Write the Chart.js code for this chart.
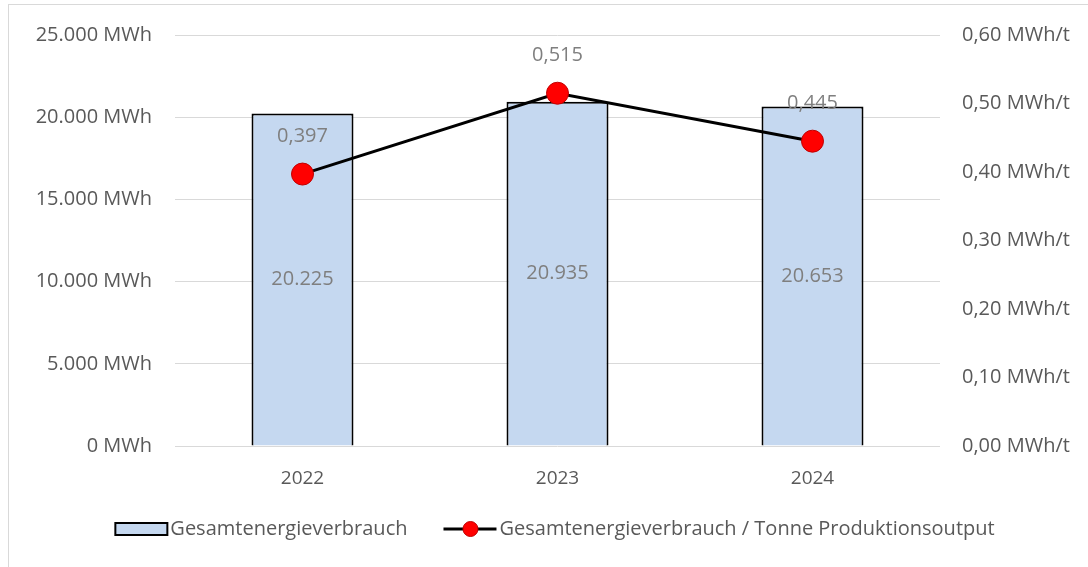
<!DOCTYPE html>
<html>
<head>
<meta charset="utf-8">
<script src="https://cdn.jsdelivr.net/npm/chart.js@4.4.1/dist/chart.umd.min.js"></script>
<style>
  html, body { margin: 0; padding: 0; background: #fff; }
  #wrap { position: relative; width: 1088px; height: 567px; }
</style>
</head>
<body>
<div id="wrap"><canvas id="energyChart" width="1088" height="567"></canvas></div>
<script>
// Gesamtenergieverbrauch 2022-2024
var YEARS = ['2022', '2023', '2024'];
var ENERGY_MWH = [20225, 20935, 20653];
var ENERGY_PER_TONNE = [0.397, 0.515, 0.445];
var ENERGY_LABEL = 'Gesamtenergieverbrauch';
var RATIO_LABEL = 'Gesamtenergieverbrauch / Tonne Produktionsoutput';

var FONT = '"Open Sans", Lato, sans-serif';
var TICK_COLOR = '#595959';
var LABEL_COLOR = '#7f7f7f';

function fmtThousands(v) {
  return String(Math.round(v)).replace(/\B(?=(\d{3})+(?!\d))/g, '.');
}
function fmtDecimal(v, d) {
  return v.toFixed(d).replace('.', ',');
}

// frame + data labels + legend
var extrasPlugin = {
  id: 'extras',
  beforeDraw: function(chart) {
    var c = chart.ctx;
    c.save();
    c.strokeStyle = '#d9d9d9';
    c.lineWidth = 1;
    c.strokeRect(8.5, 4.5, 1200, 700);
    c.restore();
  },
  afterDatasetsDraw: function(chart) {
    var c = chart.ctx;
    c.save();
    c.font = '20px ' + FONT;
    c.fillStyle = LABEL_COLOR;
    c.textAlign = 'center';
    c.textBaseline = 'middle';
    // dataset 1 = bars, dataset 0 = line
    chart.getDatasetMeta(1).data.forEach(function(bar, i) {
      c.fillText(fmtThousands(ENERGY_MWH[i]), bar.x, (bar.y + bar.base) / 2);
    });
    chart.getDatasetMeta(0).data.forEach(function(pt, i) {
      c.fillText(fmtDecimal(ENERGY_PER_TONNE[i], 3), pt.x, pt.y - 38);
    });

    // legend
    var ly = 529;
    c.font = '20px ' + FONT;
    c.textAlign = 'left';
    var w1 = c.measureText(ENERGY_LABEL).width;
    var w2 = c.measureText(RATIO_LABEL).width;
    var total = 52 + 3 + w1 + 36 + 53 + 3 + w2;
    var x = 555 - total / 2;
    c.fillStyle = '#c5d8f0';
    c.fillRect(x, ly - 6, 52, 12);
    c.strokeStyle = '#000';
    c.lineWidth = 2;
    c.strokeRect(x, ly - 6, 52, 12);
    c.fillStyle = TICK_COLOR;
    c.fillText(ENERGY_LABEL, x + 55, ly);
    x += 55 + w1 + 36;
    c.beginPath();
    c.moveTo(x, ly);
    c.lineTo(x + 53, ly);
    c.strokeStyle = '#000';
    c.lineWidth = 3;
    c.stroke();
    c.beginPath();
    c.arc(x + 27, ly, 7.5, 0, Math.PI * 2);
    c.fillStyle = '#ff0000';
    c.fill();
    c.lineWidth = 1;
    c.strokeStyle = '#c00000';
    c.stroke();
    c.fillStyle = TICK_COLOR;
    c.fillText(RATIO_LABEL, x + 56, ly);
    c.restore();
  }
};

new Chart(document.getElementById('energyChart'), {
  data: {
    labels: YEARS,
    datasets: [
      {
        type: 'line',
        label: RATIO_LABEL,
        data: ENERGY_PER_TONNE,
        yAxisID: 'yR',
        borderColor: '#000',
        borderWidth: 3,
        pointRadius: 11,
        pointHoverRadius: 11,
        pointBackgroundColor: '#ff0000',
        pointBorderColor: '#c00000',
        pointBorderWidth: 1,
        tension: 0,
        order: 0
      },
      {
        type: 'bar',
        label: ENERGY_LABEL,
        data: ENERGY_MWH,
        yAxisID: 'yL',
        backgroundColor: '#c5d8f0',
        borderColor: '#000',
        borderWidth: 2,
        barPercentage: 0.4,
        categoryPercentage: 1,
        order: 1
      }
    ]
  },
  options: {
    responsive: false,
    animation: false,
    events: [],
    layout: { padding: { top: 29, bottom: 61, left: 0, right: 0 } },
    plugins: { legend: { display: false }, tooltip: { enabled: false } },
    scales: {
      x: {
        grid: { display: false },
        border: { display: false },
        ticks: { color: TICK_COLOR, font: { family: FONT, size: 19 }, padding: 13 },
        afterFit: function(s) { s.height = 60; }
      },
      yL: {
        position: 'left',
        min: 0,
        max: 25000,
        grid: { color: '#d9d9d9', lineWidth: 1, drawTicks: false },
        border: { display: false },
        ticks: {
          stepSize: 5000,
          color: TICK_COLOR,
          font: { family: FONT, size: 20 },
          padding: 23,
          callback: function(v) { return fmtThousands(v) + ' MWh'; }
        },
        afterFit: function(s) { s.width = 175; }
      },
      yR: {
        position: 'right',
        min: 0,
        max: 0.6,
        grid: { display: false },
        border: { display: false },
        ticks: {
          stepSize: 0.1,
          color: TICK_COLOR,
          font: { family: FONT, size: 20 },
          padding: 14,
          callback: function(v) { return fmtDecimal(v, 2) + ' MWh/t'; }
        },
        afterFit: function(s) { s.width = 148; }
      }
    }
  },
  plugins: [extrasPlugin]
});
</script>
</body>
</html>
